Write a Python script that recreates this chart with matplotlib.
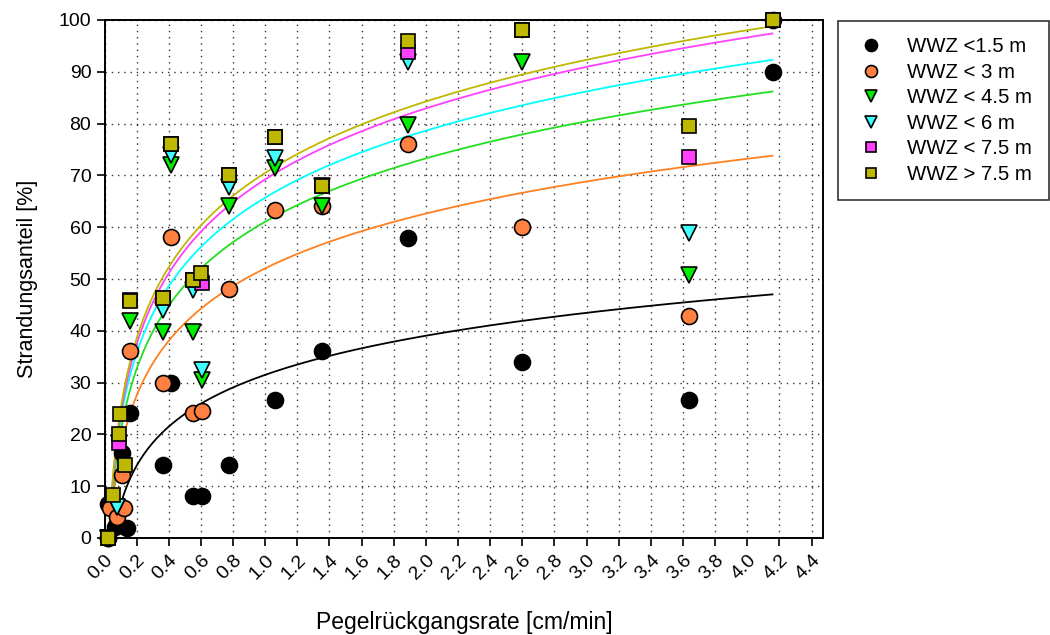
import numpy as np
import matplotlib
matplotlib.use("Agg")
import matplotlib.pyplot as plt

plt.rcParams['font.family'] = ['Liberation Sans', 'DejaVu Sans']

# Stranding share per water-depth class (WWZ) versus drawdown rate
labels = ["WWZ <1.5 m", "WWZ < 3 m", "WWZ < 4.5 m", "WWZ < 6 m", "WWZ < 7.5 m", "WWZ > 7.5 m"]

x_15 = [0.02, 0.02, 0.065, 0.138, 0.107, 0.16, 0.363, 0.415, 0.55, 0.606, 0.772, 1.063, 1.354, 1.889, 2.595, 3.638, 4.157]
y_15 = [0.0, 6.5, 2.1, 2.0, 16.4, 24.1, 14.1, 30.0, 8.1, 8.2, 14.1, 26.6, 36.1, 58.0, 34.0, 26.6, 90.0]

x_3 = [0.02, 0.034, 0.076, 0.123, 0.107, 0.16, 0.363, 0.415, 0.55, 0.606, 0.772, 1.063, 1.354, 1.889, 2.595, 3.638, 4.157]
y_3 = [0.0, 5.8, 4.1, 5.8, 12.2, 36.1, 30.0, 58.2, 24.1, 24.6, 48.1, 63.3, 64.0, 76.0, 60.0, 42.9, 100.0]

x_45 = [0.02, 0.076, 0.09, 0.16, 0.363, 0.415, 0.55, 0.606, 0.772, 1.063, 1.354, 1.889, 2.595, 3.638]
y_45 = [0.0, 6.0, 18.3, 41.8, 39.8, 72.0, 39.8, 30.5, 64.0, 71.4, 64.0, 79.7, 91.8, 50.8]

x_6 = [0.02, 0.076, 0.09, 0.363, 0.415, 0.55, 0.606, 0.772, 1.063, 1.354, 1.889, 3.638]
y_6 = [0.0, 6.0, 18.3, 44.0, 73.9, 47.9, 32.4, 67.8, 73.3, 68.0, 91.8, 58.9]

x_75 = [0.02, 0.09, 0.16, 0.363, 0.415, 0.55, 0.606, 0.772, 1.063, 1.354, 1.889, 2.595, 3.638, 4.157]
y_75 = [0.0, 18.3, 46.0, 46.3, 76.0, 49.8, 49.2, 70.1, 77.5, 68.0, 93.9, 98.0, 73.5, 100.0]

x_gt = [0.02, 0.055, 0.09, 0.096, 0.13, 0.16, 0.363, 0.415, 0.55, 0.60, 0.772, 1.063, 1.354, 1.889, 2.595, 3.638, 4.157]
y_gt = [0.0, 8.3, 20.0, 24.0, 14.0, 45.8, 46.3, 76.0, 49.8, 51.1, 70.1, 77.5, 68.0, 96.0, 98.0, 79.5, 100.0]

# Logarithmic regression y = a + b*ln(x) for each class
fit_a = [31.5, 52.06, 61.05, 65.71, 69.23, 70.5]
fit_b = [10.9, 15.26, 17.65, 18.66, 19.77, 19.86]
fit_xmax = 4.157

xs = [x_15, x_3, x_45, x_6, x_75, x_gt]
ys = [y_15, y_3, y_45, y_6, y_75, y_gt]
markers = ["o", "o", "v", "v", "s", "s"]
face = ["#000000", "#FF8040", "#00EE00", "#40FFFF", "#FF40FF", "#BEB800"]
line_col = ["#000000", "#FF8020", "#20E020", "#00FFFF", "#FF40FF", "#BEB800"]
msize = [11.5, 11.5, 11.5, 11.5, 9.5, 9.5]

fig = plt.figure(figsize=(10.5, 6.35), dpi=100)
ax = fig.add_axes([104.5 / 1050, 1 - 538 / 635, (823.3 - 104.5) / 1050, 518 / 635])

for a, b, c in zip(fit_a, fit_b, line_col):
    x0 = np.exp(-a / b)
    xc = np.linspace(x0, fit_xmax, 400)
    ax.plot(xc, a + b * np.log(xc), color=c, lw=1.3, zorder=2)

handles = []
for x, y, m, f, s, lab in zip(xs, ys, markers, face, msize, labels):
    h, = ax.plot(x, y, linestyle="none", marker=m, markersize=s, markerfacecolor=f,
                 markeredgecolor="black", markeredgewidth=1.2, clip_on=False, zorder=3, label=lab)
    handles.append(h)

ax.set_xlim(0, 4.473)
ax.set_ylim(0, 100)
ticks_x = np.arange(0, 4.41, 0.2)
ax.set_xticks(ticks_x)
ax.set_xticklabels([f"{v:.1f}" for v in ticks_x], rotation=45, ha="right",
                   rotation_mode="anchor")
ax.set_yticks(np.arange(0, 101, 10))
ax.tick_params(axis="both", direction="out", length=6, width=1.2, labelsize=14, color="black")
ax.tick_params(axis="x", pad=4)
ax.grid(True, linestyle=(0, (1, 3.5)), color="#333333", linewidth=1.0)
ax.set_axisbelow(True)
for sp in ax.spines.values():
    sp.set_linewidth(1.4)

ax.set_xlabel("Pegelrückgangsrate [cm/min]", fontsize=16.5, labelpad=20)
ax.set_ylabel("Strandungsanteil [%]", fontsize=15.5, labelpad=15)

leg = fig.legend(handles=handles, loc="upper left", bbox_to_anchor=(838 / 1050, 1 - 21 / 635),
                 fontsize=14.7, frameon=True, fancybox=False, edgecolor="black", markerscale=0.75,
                 handlelength=1.6, handletextpad=1.0, borderpad=0.8, labelspacing=0.32,
                 borderaxespad=0)
leg.get_frame().set_linewidth(1.2)

fig.savefig("out.png", dpi=100)
